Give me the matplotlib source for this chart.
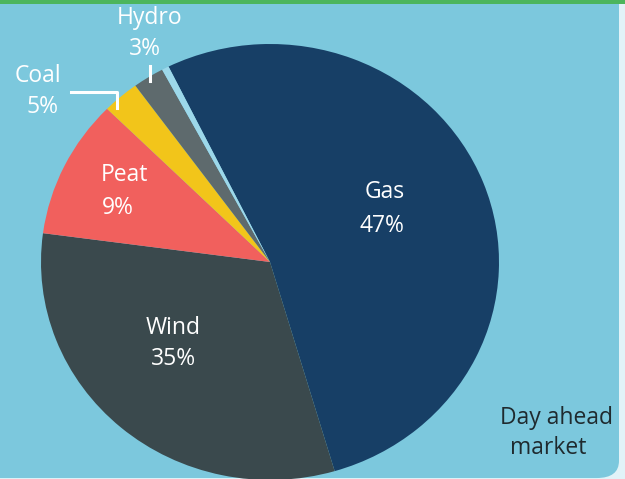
import matplotlib
matplotlib.use("Agg")
import matplotlib.pyplot as plt
from matplotlib.patches import FancyBboxPatch, Rectangle
from matplotlib.lines import Line2D

# data (labels as printed; slice sizes as drawn in the picture)
sources = ["Gas", "Wind", "Peat", "Coal", "Hydro", ""]
label_pct = [47, 35, 9, 5, 3]
slice_size = [52.8, 31.7, 10.3, 2.6, 2.2, 0.5]
colors = ["#173f66", "#3a494d", "#f1605d", "#f2c51a", "#5e6a6d", "#9dd8ea"]

W, H = 625, 479
plt.rcParams['font.family'] = ['Open Sans', 'DejaVu Sans']

fig = plt.figure(figsize=(W / 100, H / 100), dpi=100)
fig.patch.set_facecolor("#e2f3f8")

def fx(x):
    return x / W

def fy(y):
    return 1 - y / H

# background panel (rounded bottom-right corner) + green top strip
panel = FancyBboxPatch((-0.1, 0.002), fx(619) + 0.1, 1.2,
                       boxstyle="round,pad=0,rounding_size=0.036",
                       transform=fig.transFigure, facecolor="#7cc8dd",
                       edgecolor="none", zorder=-2)
fig.patches.append(panel)
fig.patches.append(Rectangle((0, fy(4)), 1, 4 / H, transform=fig.transFigure,
                             facecolor="#4cb55c", edgecolor="none", zorder=-1))

# pie axes (picture is slightly squashed vertically)
cx, cy, rx, ry = 270, 262, 229, 218
ax = fig.add_axes([fx(cx - rx), fy(cy + ry), 2 * rx / W, 2 * ry / H])
ax.pie(slice_size, colors=colors, startangle=116.3, counterclock=False,
       wedgeprops=dict(linewidth=0))
ax.set_aspect("auto")
ax.set_xlim(-1, 1)
ax.set_ylim(-1, 1)
ax.axis("off")

# slice labels
fs = 16.5
lab_pos = {"Gas": (385, 192, 382, 226), "Wind": (173, 328, 173, 359),
           "Peat": (124, 175, 118, 208), "Coal": (38, 76, 42, 107),
           "Hydro": (150, 18, 145, 49)}
for name, p in zip(sources[:5], label_pct):
    x1, y1, x2, y2 = lab_pos[name]
    fig.text(fx(x1), fy(y1), name, color="white", fontsize=fs, ha="center", va="center")
    fig.text(fx(x2), fy(y2), f"{p}%", color="white", fontsize=fs, ha="center", va="center")

# leader lines
fig.add_artist(Line2D([fx(150), fx(150)], [fy(66), fy(81)], color="white", lw=2.2))
fig.add_artist(Line2D([fx(71), fx(117), fx(117)], [fy(92), fy(92), fy(108)],
                      color="white", lw=2.2))

fig.text(fx(556), fy(418), "Day ahead", color="#1f2a2e", fontsize=fs, ha="center", va="center")
fig.text(fx(548), fy(448), "market", color="#1f2a2e", fontsize=fs, ha="center", va="center")

fig.savefig("out.png", dpi=100)
